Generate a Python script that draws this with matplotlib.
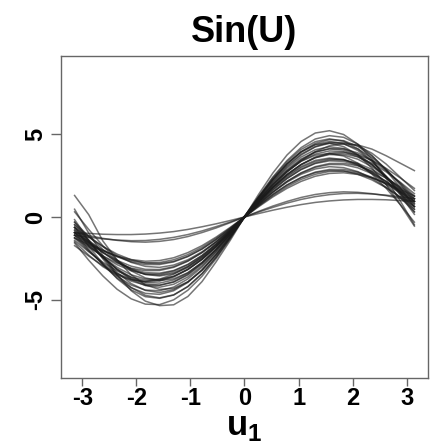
import matplotlib
matplotlib.use("Agg")
import matplotlib.pyplot as plt

plt.rcParams['font.family'] = ['Liberation Sans', 'DejaVu Sans']
plt.rcParams['mathtext.fontset'] = 'custom'
plt.rcParams['mathtext.bf'] = 'Liberation Sans:bold'
plt.rcParams['mathtext.rm'] = 'Liberation Sans:bold'

title = "Sin(U)"
x_label = r"$\mathbf{u}_{\mathbf{1}}$"
x_ticks = [-3, -2, -1, 0, 1, 2, 3]
y_ticks = [-5, 0, 5]

u_grid = [-3.1416, -2.8798, -2.618, -2.3562, -2.0944, -1.8326, -1.5708, -1.309,
          -1.0472, -0.7854, -0.5236, -0.2618, 0.0, 0.2618, 0.5236, 0.7854,
          1.0472, 1.309, 1.5708, 1.8326, 2.0944, 2.3562, 2.618, 2.8798, 3.1416]

curve_01 = [0.47, -0.97, -2.32, -3.49, -4.45, -5.08, -5.35, -5.30, -4.80, -3.90, -2.70, -1.40, 0.0,
            1.37, 2.65, 3.74, 4.56, 5.07, 5.21, 4.98, 4.40, 3.49, 2.32, 0.97, -0.47]
curve_02 = [-0.16, -1.39, -2.53, -3.51, -4.26, -4.73, -4.88, -4.70, -4.21, -3.43, -2.43, -1.26, 0.05,
            1.22, 2.36, 3.33, 4.08, 4.55, 4.72, 4.58, 4.12, 3.40, 2.45, 1.35, 0.16]
curve_03 = [-0.63, -1.77, -2.82, -3.72, -4.40, -4.81, -4.91, -4.71, -4.19, -3.41, -2.41, -1.24, 0.0,
            1.24, 2.41, 3.41, 4.19, 4.71, 4.91, 4.81, 4.40, 3.72, 2.82, 1.77, 0.63]
curve_04 = [-0.31, -1.43, -2.46, -3.35, -4.02, -4.43, -4.56, -4.38, -3.92, -3.19, -2.25, -1.17, -0.05,
            1.17, 2.25, 3.19, 3.92, 4.38, 4.56, 4.43, 4.02, 3.35, 2.46, 1.43, 0.31]
curve_05 = [-0.94, -1.95, -2.89, -3.68, -4.27, -4.61, -4.67, -4.45, -3.95, -3.21, -2.26, -1.17, 0.0,
            1.17, 2.26, 3.21, 3.95, 4.45, 4.67, 4.61, 4.27, 3.68, 2.89, 1.95, 0.94]
curve_06 = [-0.47, -1.47, -2.39, -3.18, -3.78, -4.14, -4.24, -4.06, -3.62, -2.95, -2.08, -1.07, 0.0,
            1.07, 2.08, 2.95, 3.62, 4.06, 4.24, 4.14, 3.78, 3.18, 2.39, 1.47, 0.47]
curve_07 = [-1.10, -2.02, -2.87, -3.58, -4.11, -4.41, -4.45, -4.23, -3.74, -3.03, -2.13, -1.10, 0.05,
            1.10, 2.13, 3.03, 3.74, 4.23, 4.45, 4.41, 4.11, 3.58, 2.87, 2.02, 1.10]
curve_08 = [-0.63, -1.56, -2.42, -3.16, -3.71, -4.04, -4.11, -3.93, -3.50, -2.84, -2.01, -1.04, 0.0,
            1.04, 2.01, 2.84, 3.50, 3.93, 4.11, 4.04, 3.71, 3.16, 2.42, 1.56, 0.63]
curve_09 = [-0.79, -1.65, -2.45, -3.14, -3.64, -3.94, -3.99, -3.80, -3.38, -2.74, -1.93, -1.00, 0.0,
            1.00, 1.93, 2.74, 3.38, 3.80, 3.99, 3.94, 3.64, 3.14, 2.45, 1.65, 0.79]
curve_10 = [-1.26, -2.06, -2.80, -3.42, -3.87, -4.11, -4.13, -3.91, -3.45, -2.79, -1.96, -1.01, 0.0,
            1.01, 1.96, 2.79, 3.45, 3.91, 4.13, 4.11, 3.87, 3.42, 2.80, 2.06, 1.26]
curve_11 = [-0.31, -1.17, -1.96, -2.64, -3.15, -3.47, -3.56, -3.42, -3.05, -2.48, -1.75, -0.91, 0.0,
            0.91, 1.75, 2.48, 3.05, 3.42, 3.56, 3.47, 3.15, 2.64, 1.96, 1.17, 0.31]
curve_12 = [-0.94, -1.72, -2.44, -3.04, -3.49, -3.74, -3.77, -3.58, -3.17, -2.57, -1.81, -0.93, 0.0,
            0.93, 1.81, 2.57, 3.17, 3.58, 3.77, 3.74, 3.49, 3.04, 2.44, 1.72, 0.94]
curve_13 = [-0.63, -1.40, -2.12, -2.73, -3.19, -3.46, -3.51, -3.35, -2.98, -2.42, -1.71, -0.88, 0.0,
            0.88, 1.71, 2.42, 2.98, 3.35, 3.51, 3.46, 3.19, 2.73, 2.12, 1.40, 0.63]
curve_14 = [-1.41, -2.10, -2.73, -3.25, -3.63, -3.82, -3.81, -3.58, -3.16, -2.55, -1.79, -0.92, 0.0,
            0.92, 1.79, 2.55, 3.16, 3.58, 3.81, 3.82, 3.63, 3.25, 2.73, 2.10, 1.41]
curve_15 = [-0.79, -1.50, -2.15, -2.71, -3.12, -3.36, -3.39, -3.23, -2.86, -2.32, -1.63, -0.84, 0.0,
            0.84, 1.63, 2.32, 2.86, 3.23, 3.39, 3.36, 3.12, 2.71, 2.15, 1.50, 0.79]
curve_16 = [-1.10, -1.76, -2.37, -2.88, -3.24, -3.44, -3.45, -3.26, -2.88, -2.33, -1.63, -0.84, 0.0,
            0.84, 1.63, 2.33, 2.88, 3.26, 3.45, 3.44, 3.24, 2.88, 2.37, 1.76, 1.10]
curve_17 = [-0.47, -1.16, -1.79, -2.33, -2.74, -2.98, -3.04, -2.90, -2.58, -2.10, -1.48, -0.76, 0.0,
            0.76, 1.48, 2.10, 2.58, 2.90, 3.04, 2.98, 2.74, 2.33, 1.79, 1.16, 0.47]
curve_18 = [-0.94, -1.56, -2.14, -2.62, -2.97, -3.16, -3.17, -3.00, -2.65, -2.15, -1.51, -0.78, 0.0,
            0.78, 1.51, 2.15, 2.65, 3.00, 3.17, 3.16, 2.97, 2.62, 2.14, 1.56, 0.94]
curve_19 = [-1.26, -1.83, -2.35, -2.78, -3.09, -3.24, -3.23, -3.04, -2.67, -2.15, -1.51, -0.78, 0.0,
            0.78, 1.51, 2.15, 2.67, 3.04, 3.23, 3.24, 3.09, 2.78, 2.35, 1.83, 1.26]
curve_20 = [-0.63, -1.22, -1.77, -2.24, -2.58, -2.78, -2.81, -2.68, -2.37, -1.93, -1.36, -0.70, 0.0,
            0.70, 1.36, 1.93, 2.37, 2.68, 2.81, 2.78, 2.58, 2.24, 1.77, 1.22, 0.63]
curve_21 = [-0.94, -1.49, -1.99, -2.40, -2.71, -2.87, -2.87, -2.71, -2.39, -1.93, -1.36, -0.70, 0.0,
            0.70, 1.36, 1.93, 2.39, 2.71, 2.87, 2.87, 2.71, 2.40, 1.99, 1.49, 0.94]
curve_22 = [-1.10, -1.58, -2.02, -2.38, -2.64, -2.77, -2.75, -2.58, -2.27, -1.83, -1.28, -0.66, 0.0,
            0.66, 1.28, 1.83, 2.27, 2.58, 2.75, 2.77, 2.64, 2.38, 2.02, 1.58, 1.10]
curve_23 = [-1.26, -1.67, -2.05, -2.36, -2.57, -2.67, -2.63, -2.46, -2.15, -1.73, -1.21, -0.62, 0.0,
            0.62, 1.21, 1.73, 2.15, 2.46, 2.63, 2.67, 2.57, 2.36, 2.05, 1.67, 1.26]
curve_24 = [-0.94, -1.12, -1.29, -1.41, -1.49, -1.52, -1.47, -1.36, -1.18, -0.94, -0.66, -0.34, 0.0,
            0.34, 0.66, 0.94, 1.18, 1.36, 1.47, 1.52, 1.49, 1.41, 1.29, 1.12, 0.94]
curve_25 = [-1.10, -1.22, -1.32, -1.39, -1.43, -1.42, -1.35, -1.23, -1.06, -0.84, -0.58, -0.30, 0.0,
            0.30, 0.58, 0.84, 1.06, 1.23, 1.35, 1.42, 1.43, 1.39, 1.32, 1.22, 1.10]
curve_26 = [-0.94, -0.99, -1.04, -1.06, -1.06, -1.03, -0.97, -0.88, -0.75, -0.59, -0.41, -0.21, 0.0,
            0.21, 0.41, 0.59, 0.75, 0.88, 0.97, 1.03, 1.06, 1.06, 1.04, 0.99, 0.94]
curve_27 = [-1.50, -2.30, -3.00, -3.50, -3.80, -3.90, -3.75, -3.45, -3.00, -2.40, -1.65, -0.85, 0.0,
            0.95, 1.85, 2.70, 3.40, 3.95, 4.30, 4.42, 4.35, 4.10, 3.70, 3.25, 2.80]
curve_28 = [1.30, 0.14, -1.45, -2.59, -3.49, -4.10, -4.37, -4.31, -3.91, -3.22, -2.29, -1.19, 0.0,
            1.19, 2.29, 3.22, 3.93, 4.36, 4.45, 4.25, 3.75, 2.95, 1.95, 0.75, -0.55]
curve_29 = [-1.57, -2.61, -3.56, -4.36, -4.94, -5.26, -5.29, -5.00, -4.42, -3.58, -2.51, -1.30, 0.0,
            1.15, 2.20, 3.10, 3.80, 4.25, 4.50, 4.50, 4.30, 3.85, 3.20, 2.40, 1.60]
curve_30 = [-1.73, -2.36, -2.94, -3.42, -3.75, -3.91, -3.86, -3.62, -3.17, -2.55, -1.79, -0.92, 0.0,
            0.92, 1.79, 2.55, 3.17, 3.62, 3.86, 3.91, 3.75, 3.42, 2.94, 2.36, 1.73]
curve_31 = [0.31, -0.75, -1.74, -2.59, -3.25, -3.68, -3.84, -3.73, -3.36, -2.75, -1.95, -1.01, 0.0,
            1.01, 1.95, 2.75, 3.36, 3.73, 3.84, 3.68, 3.25, 2.59, 1.74, 0.75, -0.31]

curves = [curve_01, curve_02, curve_03, curve_04, curve_05, curve_06, curve_07, curve_08,
          curve_09, curve_10, curve_11, curve_12, curve_13, curve_14, curve_15, curve_16,
          curve_17, curve_18, curve_19, curve_20, curve_21, curve_22, curve_23, curve_24,
          curve_25, curve_26, curve_27, curve_28, curve_29, curve_30, curve_31]

fig = plt.figure(figsize=(4.4, 4.43), dpi=100)
ax = fig.add_axes([0.1386, 0.1467, 0.8341, 0.7269])

for c in curves:
    ax.plot(u_grid, c, color='#1a1a1a', alpha=0.6, lw=1.1, solid_joinstyle='round')

ax.set_xlim(-3.393, 3.393)
ax.set_ylim(-9.72, 9.72)
ax.set_xticks(x_ticks)
ax.set_yticks(y_ticks)
ax.set_xticklabels([str(t) for t in x_ticks], fontsize=17, fontweight='bold')
ax.set_yticklabels([str(t) for t in y_ticks], fontsize=17, fontweight='bold',
                   rotation=90, va='center', ha='right')
ax.tick_params(axis='x', length=5.5, width=1, color='#666666', pad=1)
ax.tick_params(axis='y', length=7.2, width=1, color='#666666', pad=3)
for s in ax.spines.values():
    s.set_color('#666666')
    s.set_linewidth(1)

ax.set_title(title, fontsize=26, fontweight='bold', pad=10)
ax.set_xlabel(x_label, fontsize=25, labelpad=0)

fig.savefig("out.png", dpi=100)
